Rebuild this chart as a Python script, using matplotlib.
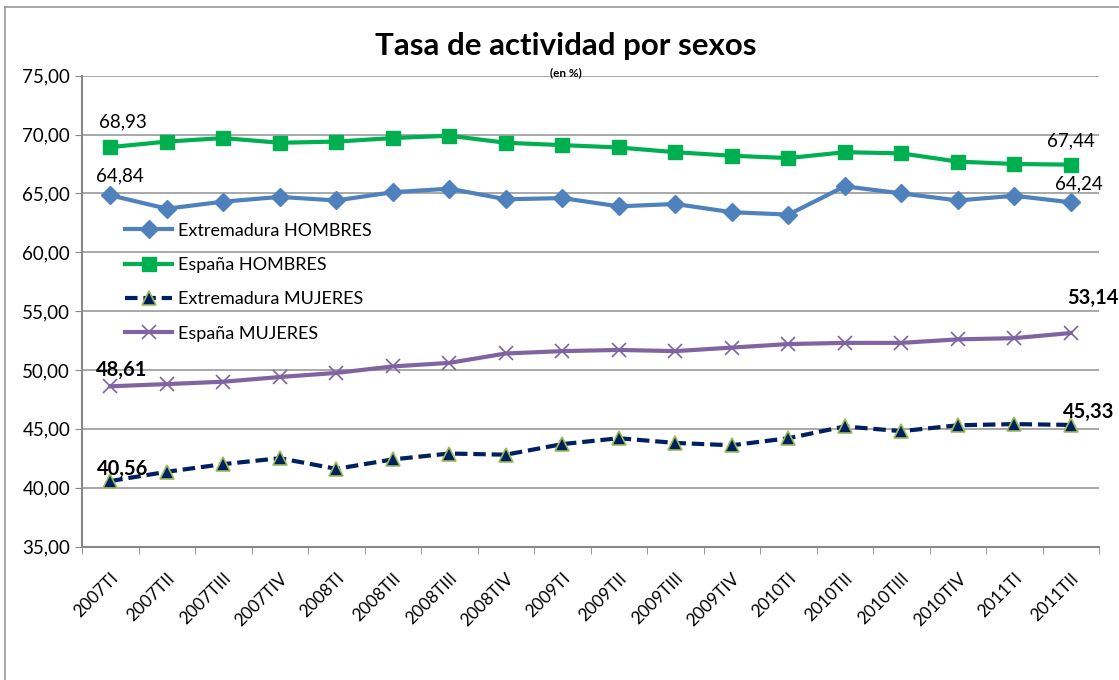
import numpy as np
import matplotlib
matplotlib.use('Agg')
import matplotlib.pyplot as plt
from matplotlib.lines import Line2D
from matplotlib.ticker import FuncFormatter

plt.rcParams['font.family'] = ['Lato', 'DejaVu Sans']

trimestres = ['2007TI', '2007TII', '2007TIII', '2007TIV', '2008TI', '2008TII', '2008TIII',
              '2008TIV', '2009TI', '2009TII', '2009TIII', '2009TIV', '2010TI', '2010TII',
              '2010TIII', '2010TIV', '2011TI', '2011TII']

ext_hombres = [64.84, 63.7, 64.3, 64.7, 64.4, 65.1, 65.4, 64.5, 64.6, 63.9, 64.1, 63.4,
               63.2, 65.6, 65.0, 64.4, 64.8, 64.24]
esp_hombres = [68.93, 69.4, 69.7, 69.3, 69.4, 69.7, 69.9, 69.3, 69.1, 68.9, 68.5, 68.2,
               68.0, 68.5, 68.4, 67.7, 67.5, 67.44]
ext_mujeres = [40.56, 41.35, 42.0, 42.5, 41.6, 42.4, 42.9, 42.8, 43.7, 44.2, 43.8, 43.6,
               44.2, 45.2, 44.8, 45.3, 45.4, 45.33]
esp_mujeres = [48.61, 48.8, 49.0, 49.4, 49.75, 50.3, 50.6, 51.4, 51.6, 51.7, 51.6, 51.9,
               52.2, 52.3, 52.3, 52.6, 52.7, 53.14]

def coma(v, pos=None):
    return ('%.2f' % v).replace('.', ',')

x = np.arange(len(trimestres))

fig = plt.figure(figsize=(11.19, 6.8), dpi=100)
ax = fig.add_axes([0.0733, 0.1963, 0.9089, 0.6924])

ax.plot(x, ext_hombres, color='#4F81BD', lw=3, marker='D', ms=9.5, label='Extremadura HOMBRES')
ax.plot(x, esp_hombres, color='#00B050', lw=3, marker='s', ms=10, label='España HOMBRES')
ax.plot(x, ext_mujeres, color='#002060', lw=3, ls=(0, (3, 1.4)), marker='^', ms=10,
        mfc='#002060', mec='#9BBB59', mew=1.2, label='Extremadura MUJERES')
ax.plot(x, esp_mujeres, color='#8064A2', lw=3, marker='x', ms=10, mew=1.2, label='España MUJERES')

ax.set_xlim(-0.5, len(trimestres) - 0.5)
ax.set_ylim(35, 75)
ax.set_yticks(np.arange(35, 76, 5))
ax.yaxis.set_major_formatter(FuncFormatter(coma))
ax.set_xticks(x)
ax.set_xticklabels(trimestres, rotation=45, ha='right', rotation_mode='anchor', fontsize=12.5)
ax.set_xticks(np.arange(-0.5, len(trimestres), 1), minor=True)
ax.tick_params(axis='x', which='major', length=0, pad=17)
ax.tick_params(axis='x', which='minor', length=5, color='#888888')
ax.tick_params(axis='y', length=5, color='#888888', labelsize=13.5)
ax.grid(axis='y', color='#999999', lw=1.2)
ax.set_axisbelow(True)
for s in ['top', 'right']:
    ax.spines[s].set_visible(False)
for s in ['left', 'bottom']:
    ax.spines[s].set_color('#888888')
    ax.spines[s].set_linewidth(1.5)

# etiquetas de datos
def etiqueta(serie, i, dx, dy, negrita=False):
    ax.annotate(coma(serie[i]), (x[i], serie[i]), xytext=(dx, dy), textcoords='offset points',
                ha='center', va='center', fontsize=14.5 if negrita else 13.5,
                fontweight='bold' if negrita else 'normal')

etiqueta(esp_hombres, 0, 9.4, 18)
etiqueta(ext_hombres, 0, 7.2, 13.7)
etiqueta(esp_hombres, -1, 0, 17)
etiqueta(ext_hombres, -1, 6, 13)
etiqueta(esp_mujeres, 0, 8, 12, True)
etiqueta(ext_mujeres, 0, 8.6, 8.6, True)
etiqueta(esp_mujeres, -1, 16, 25, True)
etiqueta(ext_mujeres, -1, 13, 9, True)

ax.legend(loc='upper left', bbox_to_anchor=(0.03, 0.715), frameon=False, fontsize=13,
          handlelength=2.6, handletextpad=0.3, labelspacing=1.02, borderpad=0.2)

fig.text(0.506, 0.933, 'Tasa de actividad por sexos', ha='center', va='center',
         fontsize=22.5, fontweight='bold')
fig.text(0.506, 0.893, '(en %)', ha='center', va='center', fontsize=8.5, fontweight='bold')

# marco del gráfico
fig.add_artist(Line2D([0.0045, 0.0045], [0, 0.99], color='#999999', lw=1.2))
fig.add_artist(Line2D([0.0045, 1.0], [0.99, 0.99], color='#999999', lw=1.2))

fig.savefig('out.png', dpi=100)
